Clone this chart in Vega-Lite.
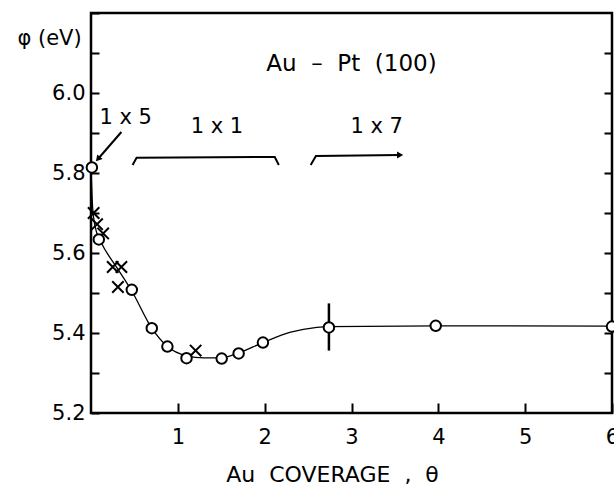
{
  "$schema": "https://vega.github.io/schema/vega-lite/v6.json",
  "width": 521,
  "height": 400,
  "autosize": {"type": "none"},
  "padding": {"left": 91, "top": 13, "right": 2, "bottom": 74},
  "background": "white",
  "config": {
    "view": {"stroke": "black", "strokeWidth": 2.5},
    "font": "DejaVu Sans",
    "axis": {"grid": false, "domain": false, "tickColor": "black", "tickWidth": 2, "labelColor": "black", "titleColor": "black", "labelFont": "DejaVu Sans", "titleFont": "DejaVu Sans", "titleFontWeight": "normal"}
  },
  "datasets": {
    "curve": [
      {"theta": 0.0, "phi": 5.81},
      {"theta": 0.02, "phi": 5.71},
      {"theta": 0.06, "phi": 5.655},
      {"theta": 0.12, "phi": 5.625},
      {"theta": 0.3, "phi": 5.563},
      {"theta": 0.47, "phi": 5.505},
      {"theta": 0.7, "phi": 5.412},
      {"theta": 0.88, "phi": 5.366},
      {"theta": 1.1, "phi": 5.343},
      {"theta": 1.3, "phi": 5.338},
      {"theta": 1.5, "phi": 5.338},
      {"theta": 1.7, "phi": 5.35},
      {"theta": 1.98, "phi": 5.376},
      {"theta": 2.3, "phi": 5.402},
      {"theta": 2.6, "phi": 5.414},
      {"theta": 2.74, "phi": 5.416},
      {"theta": 4.0, "phi": 5.418},
      {"theta": 6.0, "phi": 5.417}
    ],
    "circles": [
      {"theta": 0.01, "phi": 5.814},
      {"theta": 0.09, "phi": 5.634},
      {"theta": 0.47, "phi": 5.508},
      {"theta": 0.7, "phi": 5.412},
      {"theta": 0.88, "phi": 5.366},
      {"theta": 1.1, "phi": 5.337},
      {"theta": 1.505, "phi": 5.336},
      {"theta": 1.7, "phi": 5.349},
      {"theta": 1.98, "phi": 5.376},
      {"theta": 2.74, "phi": 5.414},
      {"theta": 3.97, "phi": 5.418},
      {"theta": 6.0, "phi": 5.416}
    ],
    "crosses": [
      {"theta": 0.03, "phi": 5.70},
      {"theta": 0.07, "phi": 5.672},
      {"theta": 0.14, "phi": 5.649},
      {"theta": 0.25, "phi": 5.565},
      {"theta": 0.35, "phi": 5.565},
      {"theta": 0.31, "phi": 5.515},
      {"theta": 1.205, "phi": 5.356}
    ],
    "errorbar": [
      {"theta": 2.74, "lo": 5.356, "hi": 5.474}
    ],
    "guides": [
      {"g": "b11", "i": 0, "theta": 0.479, "phi": 5.82},
      {"g": "b11", "i": 1, "theta": 0.525, "phi": 5.838},
      {"g": "b11", "i": 2, "theta": 2.116, "phi": 5.84},
      {"g": "b11", "i": 3, "theta": 2.163, "phi": 5.82},
      {"g": "a17", "i": 0, "theta": 2.53, "phi": 5.82},
      {"g": "a17", "i": 1, "theta": 2.59, "phi": 5.8425},
      {"g": "a17", "i": 2, "theta": 3.56, "phi": 5.845},
      {"g": "a15", "i": 0, "theta": 0.35, "phi": 5.9025},
      {"g": "a15", "i": 1, "theta": 0.08, "phi": 5.835}
    ],
    "labels": [
      {"theta": 3.0, "phi": 6.072, "text": "Au \u00a0– \u00a0Pt \u00a0(100)", "kind": "big"},
      {"theta": 0.40, "phi": 5.937, "text": "1 x 5", "kind": "small"},
      {"theta": 1.45, "phi": 5.915, "text": "1 x 1", "kind": "small"},
      {"theta": 3.29, "phi": 5.915, "text": "1 x 7", "kind": "small"}
    ]
  },
  "layer": [
    {
      "data": {"name": "curve"},
      "mark": {"type": "line", "interpolate": "monotone", "color": "black", "strokeWidth": 1.3},
      "encoding": {
        "x": {"field": "theta", "type": "quantitative", "scale": {"domain": [0, 6], "nice": false, "zero": false},
          "axis": {"orient": "bottom", "values": [1, 2, 3, 4, 5, 6], "format": "d", "tickSize": -10, "labelFontSize": 21, "labelPadding": 23, "labelFlush": false, "labelOverlap": false,
            "title": "Au \u00a0COVERAGE \u00a0, \u00a0θ", "titleFontSize": 22, "titleX": 241, "titleY": 61, "titleAlign": "center", "titleBaseline": "middle", "titleAnchor": null}},
        "y": {"field": "phi", "type": "quantitative", "scale": {"domain": [5.2, 6.2], "nice": false, "zero": false},
          "axis": {"orient": "left", "values": [5.2, 5.3, 5.4, 5.5, 5.6, 5.7, 5.8, 5.9, 6.0, 6.1, 6.2], "tickSize": -8,
            "labelExpr": "round(datum.value*10) % 2 === 0 && datum.value < 6.15 ? format(datum.value, '.1f') : ''",
            "labelFontSize": 21, "labelPadding": 14, "labelFlush": false, "labelOverlap": false,
            "title": "φ (eV)", "titleAngle": 0, "titleX": -42, "titleY": 25, "titleAlign": "center", "titleBaseline": "middle", "titleFontSize": 21}}
      }
    },
    {
      "data": {"name": "errorbar"},
      "mark": {"type": "rule", "color": "black", "strokeWidth": 2.5},
      "encoding": {
        "x": {"field": "theta", "type": "quantitative"},
        "y": {"field": "lo", "type": "quantitative", "axis": null},
        "y2": {"field": "hi"}
      }
    },
    {
      "data": {"name": "crosses"},
      "mark": {"type": "point", "shape": "M-1,-1L1,1M1,-1L-1,1", "filled": false, "stroke": "black", "strokeWidth": 2, "size": 130, "opacity": 1},
      "encoding": {
        "x": {"field": "theta", "type": "quantitative"},
        "y": {"field": "phi", "type": "quantitative", "axis": null}
      }
    },
    {
      "data": {"name": "circles"},
      "mark": {"type": "point", "shape": "circle", "filled": true, "fill": "white", "stroke": "black", "strokeWidth": 2, "size": 110, "opacity": 1},
      "encoding": {
        "x": {"field": "theta", "type": "quantitative"},
        "y": {"field": "phi", "type": "quantitative",
          "axis": {"orient": "right", "values": [5.3, 5.4, 5.5, 5.6, 5.7, 5.8, 5.9, 6.0, 6.1], "tickSize": -8, "labels": false, "title": null}}
      }
    },
    {
      "data": {"name": "guides"},
      "mark": {"type": "line", "color": "black", "strokeWidth": 2},
      "encoding": {
        "x": {"field": "theta", "type": "quantitative"},
        "y": {"field": "phi", "type": "quantitative", "axis": null},
        "detail": {"field": "g"},
        "order": {"field": "i"}
      }
    },
    {
      "data": {"name": "guides"},
      "transform": [{"filter": "datum.g === 'a17' && datum.i === 2"}],
      "mark": {"type": "point", "shape": "triangle-right", "filled": true, "color": "black", "size": 50, "opacity": 1},
      "encoding": {
        "x": {"field": "theta", "type": "quantitative"},
        "y": {"field": "phi", "type": "quantitative", "axis": null}
      }
    },
    {
      "data": {"name": "guides"},
      "transform": [{"filter": "datum.g === 'a15' && datum.i === 1"}],
      "mark": {"type": "point", "shape": "triangle-up", "angle": 220, "filled": true, "color": "black", "size": 50, "opacity": 1},
      "encoding": {
        "x": {"field": "theta", "type": "quantitative"},
        "y": {"field": "phi", "type": "quantitative", "axis": null}
      }
    },
    {
      "data": {"name": "labels"},
      "transform": [{"filter": "datum.kind === 'big'"}],
      "mark": {"type": "text", "font": "DejaVu Sans", "fontSize": 23, "color": "black", "align": "center", "baseline": "middle"},
      "encoding": {
        "x": {"field": "theta", "type": "quantitative"},
        "y": {"field": "phi", "type": "quantitative", "axis": null},
        "text": {"field": "text"}
      }
    },
    {
      "data": {"name": "labels"},
      "transform": [{"filter": "datum.kind === 'small'"}],
      "mark": {"type": "text", "font": "DejaVu Sans", "fontSize": 21, "color": "black", "align": "center", "baseline": "middle"},
      "encoding": {
        "x": {"field": "theta", "type": "quantitative"},
        "y": {"field": "phi", "type": "quantitative", "axis": null},
        "text": {"field": "text"}
      }
    }
  ],
  "resolve": {"axis": {"y": "independent"}}
}
